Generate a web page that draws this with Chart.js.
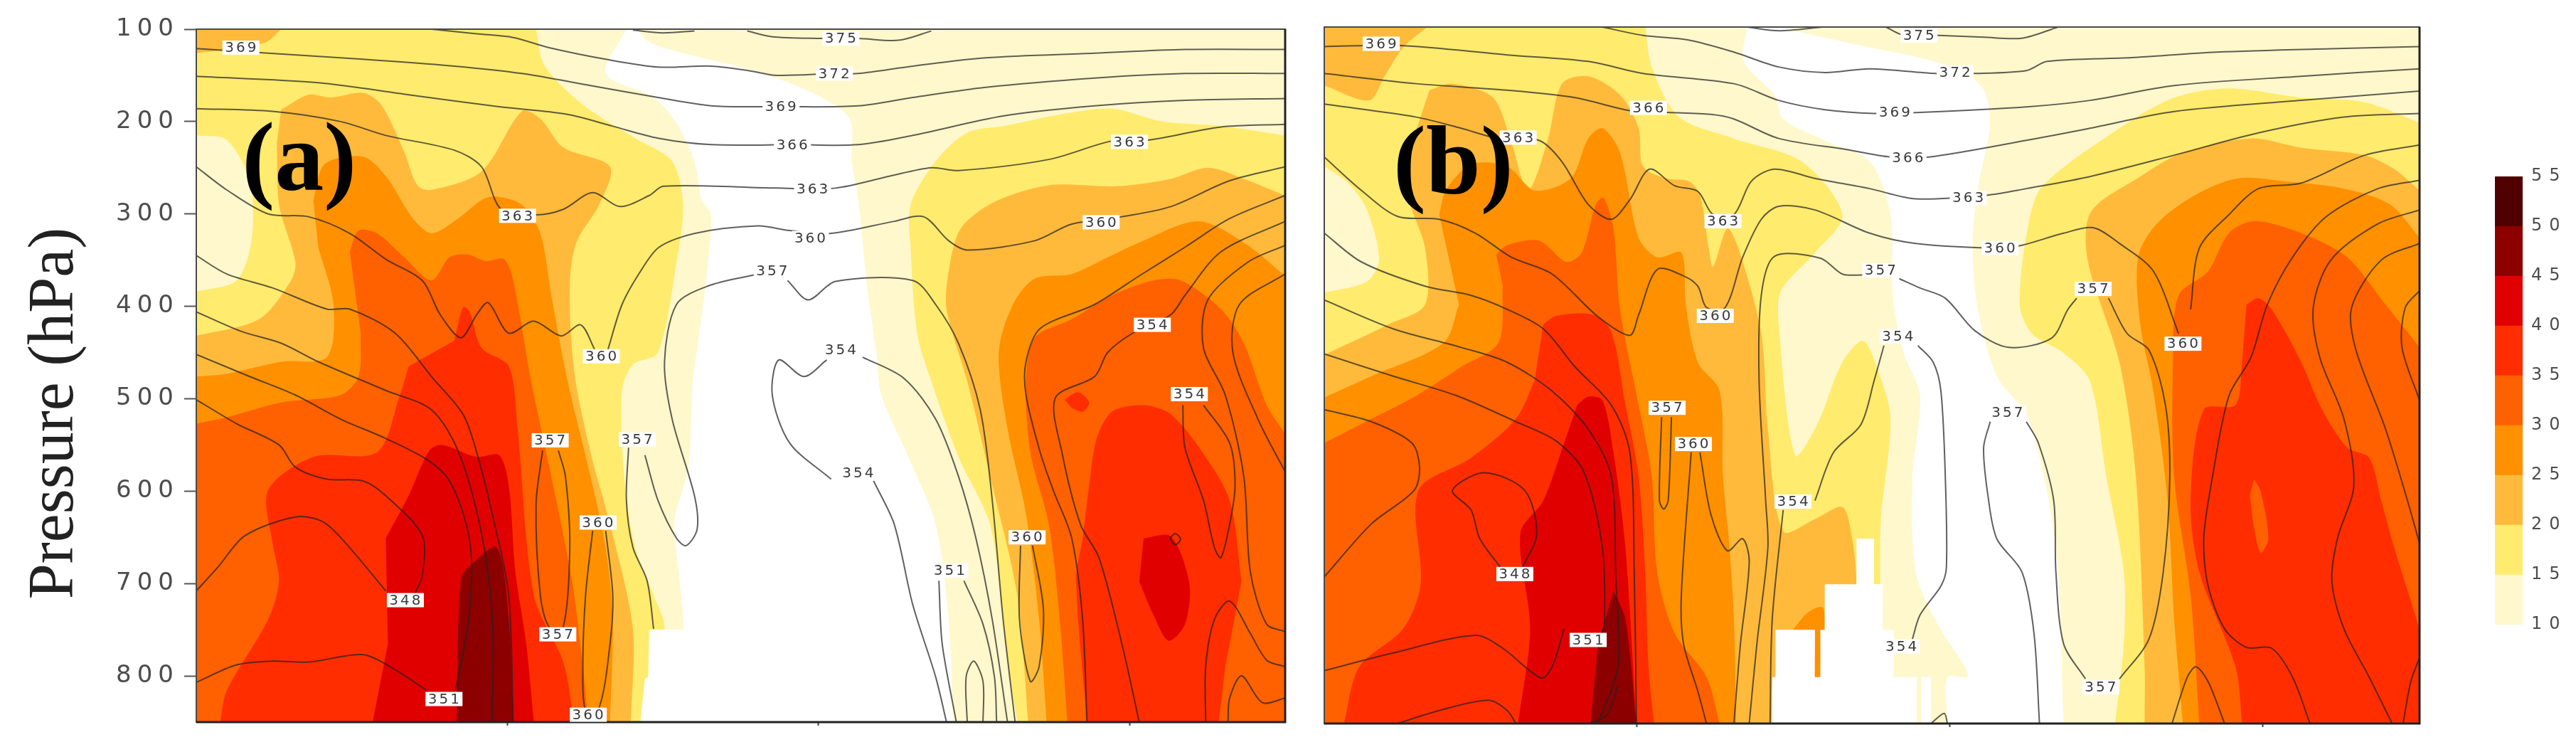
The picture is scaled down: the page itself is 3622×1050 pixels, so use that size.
<!DOCTYPE html>
<html lang="en">
<head>
<meta charset="UTF-8" />
<title>Pressure cross sections (a) and (b)</title>
<script src="https://cdn.jsdelivr.net/npm/chart.js"></script>
<style>
    body { margin: 0; background: #fff; }
    canvas { position: absolute; top: 0; filter: blur(0.6px); }
    #panelA { left: 0; }
    #panelB { left: 1840px; }
    #scaleBar { left: 3480px; }
</style>
</head>
<body>
<canvas id="panelA" width="1830" height="1050"></canvas>
<canvas id="panelB" width="1590" height="1050"></canvas>
<canvas id="scaleBar" width="142" height="1050"></canvas>
<script>
// axis values
const pressureTicks = [100, 200, 300, 400, 500, 600, 700, 800];
const xTicks = [28.57, 57.14, 85.71];
const levels = [10, 15, 20, 25, 30, 35, 40, 45, 50, 55];
const levelColors = ['#FFF8CC', '#FFEB6E', '#FFBA3C', '#FF9000', '#FF6000', '#FF2D00', '#E10000', '#8C0000', '#500000'];

// shaded areas, points are [x percent of section, pressure hPa]
const everything = [[0,100],[100,100],[100,850],[0,850]];

const gapA = [[39.5,100],[37.6,148],[42,174],[44.1,202],[45.75,243],[46.4,285],[47.25,300],[47,352],[46.2,429],[45.6,481],[45.2,574],[44,625],[43.9,646],[44.3,687],[44.75,749],[44.75,850],[69.5,850],[69.1,739],[67.9,636],[65.4,563],[62.9,496],[62.5,455],[61.6,378],[60.8,285],[60.2,243],[60,197],[56.6,169],[51.2,145],[45,127],[41.6,114],[40.5,100]];
const fillA15 = [
    [[31.2,100],[32,140],[35.75,184],[40.3,218],[43.7,243],[44.7,290],[44.1,352],[42.4,450],[40.1,463],[39.1,491],[39.3,584],[40.3,661],[42,713],[43,749],[41.2,850],[0,850],[0,100]],
    [[100,215],[94.1,205],[88.7,200],[84.1,186],[79.5,192],[74.1,205],[70.8,212],[67.9,243],[65.6,290],[65.6,336],[66.2,429],[67.5,481],[70,563],[72.9,636],[74.1,739],[74.6,790],[75.4,850],[100,850]]
];
const patchA10 = [[0,215],[2.8,220],[4.9,264],[5.1,326],[3.7,372],[0,384]];
const fillA20 = [
    [[0,100],[7.8,100],[6.4,114],[2.8,122],[0,126]],
    [[7.8,187],[10.3,171],[12.4,174],[15.3,169],[17,182],[19.1,233],[20.3,269],[21.6,274],[26.2,254],[29.9,189],[31.6,197],[33.7,228],[38,249],[37,290],[34.9,331],[34.3,378],[34.7,470],[36.2,558],[38,636],[40.1,749],[39.9,850],[0,850],[0,432],[5.75,414],[8.7,372],[9.1,352],[7.6,290],[7.4,223]],
    [[100,280],[96.2,262],[92.9,250],[89.5,262],[84.5,270],[78.3,269],[73.3,287],[70.2,316],[69.1,362],[68.9,403],[70.8,481],[72.9,584],[75.4,713],[76.4,850],[100,850]]
];
const fillA25 = [
    [[10.75,285],[11.8,246],[15.3,238],[17.4,259],[19.9,305],[21.6,321],[23.7,308],[26.2,285],[27.4,281],[29.9,290],[31.6,321],[32.6,388],[34.1,481],[36.2,584],[37.6,661],[38.25,739],[38,850],[0,850],[0,476],[2.8,473],[7.8,460],[12,455],[12.6,398],[11.2,336]],
    [[100,367],[96.2,331],[92,308],[86.6,331],[83.7,347],[80.4,365],[77,370],[75,398],[73.7,450],[74.5,532],[76.2,625],[77.4,739],[78.1,850],[100,850]]
];
const fillA30 = [
    [[14.1,341],[14.9,318],[16.6,321],[19.1,347],[21.6,372],[23.25,347],[24.9,344],[26.6,351],[28.25,349],[29.1,372],[30.75,481],[32.6,584],[34.5,697],[35.5,790],[36,850],[0,850],[0,527],[2.8,520],[7.8,504],[13.25,496],[14.9,476],[15.1,429]],
    [[100,538],[98.3,507],[96.2,440],[94.1,403],[90.4,372],[87.9,372],[84.1,388],[80.4,414],[77,434],[76.2,481],[76.6,558],[78.3,636],[79.3,739],[80,850],[100,850]]
];
const fillA35 = [
    [[23.7,437],[24.5,401],[25.1,406],[26.2,445],[28.7,465],[29.5,532],[31,713],[33.7,785],[34.7,850],[2.2,850],[2.8,816],[6.6,739],[7.6,697],[7,656],[6.6,599],[10.75,563],[16.6,558],[18.7,496],[19.5,465]],
    [[96,697],[94.9,610],[92.4,558],[89.5,517],[87,507],[84.1,514],[82.7,543],[82,594],[81.4,651],[80.8,697],[81.8,850],[93.9,850],[94.5,790]],
    [[79.75,501],[81,493],[82,504],[81.4,514],[80.4,510]]
];
const fillA40 = [
    [[17.4,651],[19.5,605],[21.4,556],[22.6,550],[25.75,563],[27.8,561],[28.7,594],[29.3,687],[30.3,765],[31,850],[16.2,850],[17.6,765]],
    [[87,651],[89.5,649],[91.2,700],[90.8,744],[89.3,762],[87.9,734],[86.6,698]]
];
const fillA45 = [[[23.9,850],[24.3,695],[25.3,679],[27.6,661],[28.7,739],[29.1,850]]];
const maskA = [[41.6,750],[44.9,750],[44.9,850],[40.8,850],[41.2,803],[41.5,801]];

const gapB = [[38.6,100],[38.3,137],[41.1,173],[41.9,199],[45.7,222],[49.8,245],[51.7,302],[51.9,389],[52.9,451],[54.4,497],[53.7,584],[54,687],[56,743],[58.5,789],[58.7,800],[56.9,800],[56.9,850],[67.5,850],[66.8,661],[64.3,522],[61.4,476],[59.6,399],[59.2,327],[59.8,266],[60.8,204],[60.2,168],[58.3,148],[54,132],[49.8,122],[44.8,109],[41.5,100]];
const fillB15 = [
    [[29.3,100],[29.9,143],[32.4,197],[37.4,220],[43.6,245],[47.3,302],[44.8,343],[41.7,384],[41.5,420],[43,561],[45,528],[47.3,461],[49.2,438],[50.6,471],[51.7,522],[50.8,635],[50.8,748],[50.8,850],[0,850],[0,100]],
    [[100,203],[95,181],[89.2,176],[82.6,166],[77.6,176],[72.6,209],[65.6,271],[64.3,312],[63.5,399],[64.6,430],[67.5,451],[69.9,481],[71.4,584],[73,687],[73,764],[72.2,850],[100,850]]
];
const patchB10 = [[0,250],[2.2,268],[3.9,297],[5,350],[3.9,374],[0,386]];
const fillB20 = [
    [[0,100],[9.4,100],[7.2,122],[5.5,153],[4.1,179],[0,163]],
    [[9.6,168],[11.7,161],[15.4,176],[17.1,225],[18.6,276],[20.4,222],[21.7,161],[24.1,153],[27,173],[28.7,209],[29.1,250],[31.2,263],[33.3,266],[34.3,281],[35.1,338],[35.5,358],[36.8,317],[37.8,338],[39.9,430],[40.5,533],[41.9,643],[44.8,630],[47.3,617],[48.2,651],[48.6,700],[48.6,850],[0,850],[0,453],[5.9,420],[9.2,399],[9.2,338],[7.8,286],[8,225]],
    [[100,276],[97.7,253],[95,238],[89.2,230],[84.6,220],[78.4,235],[74.5,261],[70,299],[69.7,351],[72.6,461],[74.1,584],[74.9,789],[74.9,850],[100,850]]
];
const fillB25 = [
    [[10.5,302],[11.1,276],[13.4,248],[16.7,250],[19.2,276],[22.5,263],[24.1,220],[25.4,209],[27,235],[28.7,327],[30.4,348],[32.6,343],[33,399],[34.1,461],[36.1,492],[36.4,584],[37,661],[37.4,738],[37.6,850],[0,850],[0,499],[4.3,476],[10.9,440],[12.3,399]],
    [[42.8,749],[44.2,730],[45.5,725],[45.7,749],[45.7,802],[44.8,802]],
    [[100,327],[97.3,291],[93.1,274],[87.6,266],[83.4,263],[79.5,281],[76,312],[74.3,348],[74.5,420],[75.7,492],[77,610],[77.6,738],[78.4,850],[100,850]]
];
const fillB30 = [
    [[15.7,345],[16.7,335],[19.6,330],[22.1,353],[23.5,343],[24.8,291],[25.5,284],[26.4,317],[27,404],[28.7,507],[29.9,584],[30.4,687],[32,753],[34.9,800],[36.1,850],[0,850],[0,548],[4.3,522],[8.4,497],[12.5,466],[15.9,440],[16.3,379]],
    [[100,445],[96.9,399],[93.4,348],[89.2,322],[84.9,309],[82.6,322],[80.7,363],[78,389],[77.5,456],[77.6,584],[79.1,712],[79.9,850],[100,850]]
];
const fillB35 = [
    [[20,420],[21.2,411],[24.6,410],[26.2,428],[27.5,507],[28.7,584],[29.3,687],[29.6,789],[30.1,850],[1.8,850],[3.2,789],[7.2,748],[8.8,700],[8.6,599],[13.4,564],[17.5,522],[19.2,481]],
    [[84.2,399],[85.3,392],[86.5,404],[89.2,461],[91.1,512],[93.4,553],[95.4,564],[96.5,610],[97.7,661],[100,748],[100,850],[83.8,850],[83.2,789],[79.9,687],[79.1,610],[80.3,512],[83.2,507],[83.8,461]]
];
const fillB40 = [[[23.1,507],[24.1,498],[25.4,502],[26.4,558],[27.5,661],[28.5,850],[17.7,850],[18.8,748],[17.9,645],[20,610],[21.9,548]]];
const fillB45 = [[[26.4,707],[27.5,738],[28.5,850],[24.3,850],[25,764]]];
const patchB30 = [[84.9,587],[85.5,600],[86.2,651],[85.5,666],[84.9,640],[84.5,604]];
const maskB = [[40.9,850],[40.9,800],[41.2,800],[41.2,749],[44.8,749],[44.8,800],[45.3,800],[45.3,749],[45.7,749],[45.7,700],[48.6,700],[48.6,651],[50.2,651],[50.2,700],[51,700],[51,749],[52,749],[52,800],[54.1,800],[54.1,850]];
const maskB2 = [[54.5,800],[55.4,800],[55.4,850],[54.5,850]];

// isentropes, one line per array
const linesA = [
    [[50.6,102],[52.8,108],[57,110],[60.8,110],[64.5,112],[67.5,102]],
    [[40.1,101],[42.8,104],[45.75,102]],
    [[21.6,100],[25.75,105],[29.1,109],[32.4,120],[37.8,133],[42.4,141],[47.3,140],[50.8,145],[53.3,150],[58.6,148],[60.8,148],[65.8,140],[72.5,131],[82.5,126],[90.8,122],[100,122]],
    [[0,121],[15.3,132.5],[23.7,140],[29.9,148],[36.2,161],[42.4,174],[47.3,183],[52,184],[53.7,184],[60.8,183],[65.8,174],[72.5,163],[82.5,153],[90.8,148],[100,148]],
    [[0,151],[11.2,158],[19.5,171],[27.8,184],[34,192],[38.25,205],[42.4,218],[47.3,225],[54.8,225],[60.8,225],[65.8,215],[74.1,194],[82.5,183],[90.8,177],[100,175]],
    [[0,186],[7,189],[13.25,200],[17.4,215],[23.7,231],[26.2,249],[28,295],[31.2,301],[33.7,295],[36.4,277],[38.9,292],[41.6,280],[42.9,270],[53.3,272],[58.7,272],[63.7,259],[67.5,250],[70,253],[78.3,241],[84.1,221],[87.5,220],[94,206],[100,203]],
    [[100,249],[94.9,264],[89.5,292],[85,303],[80.4,311],[77,329],[70.8,339],[69.1,329],[66.8,303],[64.1,308],[58.3,321],[54.5,318],[51.6,313],[45.8,321],[42.5,336],[40.8,362],[39.1,398],[37.8,447]],
    [[0,249],[2.8,274],[6.6,300],[10.3,303],[14.1,321],[17.4,349],[20.75,372],[22.4,409],[24.3,434],[25.75,409],[26.8,396],[28.7,429],[31,416],[33.5,432],[35.3,420],[36.6,447]],
    [[0,345],[2.8,365],[7,380],[12,403],[14.1,403],[18.25,429],[21.6,476],[24.5,517],[25.75,558],[27.4,636],[28.7,713],[29.1,850]],
    [[0,406],[4.1,427],[7.8,440],[11.2,460],[17.4,491],[21.6,512],[24.1,558],[26.2,646],[27.2,739],[27.2,850]],
    [[0,452],[4.9,476],[9.1,496],[13.25,522],[17.4,543],[21.2,566],[23.25,589],[24.9,641],[25.3,687],[24.9,749],[23.8,816]],
    [[0,501],[3.7,527],[7.6,550],[9.1,574],[12,587],[15.3,589],[17.4,605],[20.75,648],[20.75,692],[20.1,710]],
    [[0,708],[2,682],[4.5,648],[9.1,628],[11.6,633],[13.7,656],[17.4,708]],
    [[0,807],[3.7,788],[7,784],[10.3,785],[15.3,777],[17.8,790],[21.2,816]],
    [[31.8,556],[31.2,615],[31.6,713],[32.4,747],[33.7,747],[34.3,661],[33.9,584],[33.25,556]],
    [[36.4,643],[35.75,713],[35.5,790],[35.75,837],[37,834],[38,765],[38.25,713],[37.6,643]],
    [[39.7,553],[39.5,610],[40.1,661],[41.4,697],[42,749]],
    [[41.2,561],[42.4,610],[44.1,651],[45,659],[46,641],[45.75,605],[43.7,522],[43,460],[44.1,398],[47,378],[51.2,366]],
    [[54.3,372],[56.2,393],[58.7,373],[65.8,372],[67.9,398],[70,440],[72,512],[73.1,610],[74.1,739],[75.2,850]],
    [[57.9,458],[55.8,476],[53.5,458],[52.9,496],[54.5,548],[58.3,587]],
    [[62.2,589],[64.1,636],[65.8,723],[67.9,801],[68.9,850]],
    [[61.2,455],[65,478],[67.9,522],[70,584],[71.6,651],[73.1,739],[74.5,850]],
    [[68.2,697],[68.5,765],[69.8,850]],
    [[70.5,697],[72.25,744],[73.3,801],[73.5,850]],
    [[70.8,850],[70.7,801],[71.4,784],[72.25,806],[72.25,850]],
    [[75.7,659],[75.6,739],[76.6,806],[77.4,790],[77.8,728],[76.8,659]],
    [[100,280],[94.9,305],[90.8,336],[86.6,367],[82.5,398],[77.5,424],[76.2,460],[76.2,496],[77.5,558],[78.7,599],[80.4,651],[81.4,739],[81.8,850]],
    [[100,308],[94.1,341],[90.8,388],[89.5,409],[86,429],[83.7,450],[82.5,476],[78.9,499],[79.5,558],[81.2,636],[82.9,672],[85,765],[86.6,850]],
    [[100,334],[96.6,352],[92.9,393],[92.5,445],[94.5,496],[96.2,584],[96.8,687],[98.3,744],[100,752]],
    [[100,365],[95.8,398],[95.2,450],[97.5,522],[100,579]],
    [[90.6,507],[90.8,553],[92.5,610],[93.5,661],[94.1,672],[94.9,636],[95.4,594],[94.9,548],[92.5,507]],
    [[89.4,651],[89.9,646],[90.4,652],[89.9,658],[89.4,651]],
    [[100,790],[98.3,783],[96.8,754],[94.9,719],[93.5,739],[92.7,790],[92.7,850]],
    [[100,824],[97.9,829],[96,800],[94.9,824],[94.75,850]]
];
const linesB = [
    [[38.6,100],[41.5,104],[45.5,100]],
    [[51.3,100],[52.7,108],[56.1,109],[60.2,111],[63.7,112],[67,100]],
    [[25.4,100],[29.1,109],[33.25,114],[37.4,127],[41.5,143],[45.7,149],[49.8,145],[55.8,150],[57.6,149],[59.4,150],[64.1,147],[66,137],[73.7,133],[81.5,127],[93.1,123],[100,121]],
    [[0,121],[7,120],[16.7,130],[24.1,137],[29.1,150],[37.4,161],[41.5,179],[45.7,189],[50.2,193],[54.4,192],[64.1,186],[69.9,179],[77.6,163],[89.2,153],[100,145]],
    [[0,150],[8.4,161],[16.7,168],[22.9,176],[27.9,190],[31.4,192],[35.3,194],[37.4,199],[41.5,220],[47.7,232],[51.7,240],[55.2,240],[64.1,222],[69.9,209],[77.6,191],[89.2,179],[100,169]],
    [[0,183],[8.4,197],[12.5,209],[15.9,220],[19.6,222],[21.7,245],[24.1,291],[26.2,307],[27.9,286],[29.7,253],[32,271],[34.1,277],[35.5,302],[37.4,302],[39,266],[41.1,253],[44.8,263],[49.8,274],[54,285],[60.6,281],[64.1,274],[69.9,261],[77.6,238],[85.3,214],[93.1,197],[100,193]],
    [[0,240],[3.4,276],[6.7,304],[10.5,307],[13.8,322],[17.1,348],[20.8,366],[25,412],[27.9,432],[28.7,410],[30.4,361],[32.8,368],[34.1,379],[34.9,402],[36.6,402],[38.2,348],[39.9,307],[41.5,293],[44.8,297],[49.8,322],[54,333],[61.7,338],[63.7,335],[67.5,322],[70.2,316],[72.6,333],[75.7,363],[78,430]],
    [[79.1,404],[79.9,338],[82.6,302],[85.3,274],[89.2,268],[95,238],[100,227]],
    [[0,322],[3.4,353],[9.2,379],[13.4,389],[16.7,404],[20,425],[22.9,466],[26.2,507],[27.9,558],[28.3,687],[28.5,850]],
    [[0,394],[6.3,425],[12.5,445],[16.7,461],[20.8,492],[24.1,533],[26.2,584],[26.6,687],[26.8,789],[25,850]],
    [[0,452],[6.3,476],[12.1,497],[17.5,525],[21.2,546],[23.7,579],[25.4,661],[25.6,738],[25.4,753]],
    [[0,512],[4.3,525],[8,548],[8.7,574],[8.2,599],[4.3,635],[0,692]],
    [[16.1,682],[14.2,651],[13.4,620],[11.7,599],[14.6,580],[18.3,599],[19.4,646],[18.1,682]],
    [[0,793],[6.3,774],[13.8,755],[16.3,769],[19.8,801],[20.8,789],[21.9,748]],
    [[6.7,850],[10.5,836],[15,825],[16.7,836],[17.5,850]],
    [[24.3,850],[25.8,841],[26.8,810]],
    [[30.8,520],[30.6,610],[31,619],[31.4,610],[31.7,520]],
    [[33.5,558],[32.6,712],[32.8,764],[34.1,815],[34.9,850]],
    [[34.3,558],[35.3,625],[36.8,664],[38.2,651],[38.8,676],[38,764],[37.4,850]],
    [[49.2,367],[47.3,366],[45.3,349],[41.1,347],[39.9,389],[39.7,481],[40.3,610],[40.5,661],[39.5,764],[38.8,850]],
    [[41.9,620],[40.9,738],[40.7,850]],
    [[44.8,610],[46.5,558],[49,528],[50.2,481],[51.1,443]],
    [[54.2,443],[55.6,461],[56.3,492],[56.7,584],[56.8,682],[56.3,702],[54.4,733],[53.7,759]],
    [[55.4,850],[56.6,839],[56.9,850]],
    [[52.5,371],[54.4,381],[56.7,392],[59.4,427],[62.5,445],[66.4,435],[67.9,404],[68.7,392]],
    [[71.6,392],[73.3,430],[75.3,448],[76.8,507],[77.2,584],[76.6,687],[75.3,759],[72.6,802]],
    [[69.5,802],[67.5,764],[66.8,687],[66.6,610],[65.2,548],[64.1,525]],
    [[60.8,525],[60.2,553],[60.6,605],[61.4,651],[63.7,687],[64.8,753],[65.3,850]],
    [[100,265],[96.2,274],[91.5,304],[88.4,348],[86.1,399],[84.6,456],[82.6,497],[81.1,584],[80.3,651],[80.7,702],[82.2,748],[84.2,768],[86.5,769],[88.4,800],[90,850]],
    [[100,297],[96.2,312],[91.9,351],[90.3,402],[90.9,456],[93.1,522],[94,594],[92.5,651],[92,697],[93.1,748],[95.4,800],[97.5,850]],
    [[100,333],[96.5,351],[93.8,402],[94.2,448],[96.9,533],[98.9,610],[100,656]],
    [[100,384],[98.7,402],[98.4,445],[100,502]],
    [[100,779],[99.2,805],[98.5,850]],
    [[77.4,850],[78.8,800],[79.6,789],[80.7,805],[82.2,850]]
];

// contour labels: [value, x, pressure]
const labelsA = [[369,4.1,120],[363,29.5,302],[360,37.2,454],[357,32.5,545],[357,40.5,544],[360,36.9,634],[348,19.2,718],[357,33.2,755],[351,22.75,825],[360,36,842],[375,59.2,110],[372,58.6,148],[369,53.7,184],[366,54.75,225],[363,56.6,273],[360,56.4,326],[357,52.9,362],[354,59.2,447],[354,60.8,580],[351,69.2,686],[360,76.3,650],[354,87.8,420],[354,91.2,495],[360,83.1,309],[363,85.7,222]];
const labelsB = [[369,5.2,118],[366,29.6,187],[363,17.7,219],[363,36.4,309],[360,35.7,411],[357,31.3,510],[360,33.7,549],[348,17.4,689],[351,24.1,760],[354,42.8,611],[375,54.3,109],[372,57.6,149],[369,52.1,192],[366,53.3,241],[363,58.8,284],[360,61.7,338],[357,50.8,362],[354,52.4,433],[354,52.7,767],[357,70.2,382],[360,78.4,441],[357,62.4,515],[357,70.9,811]];

// shaded polygon: vertices on the section edge are doubled so the curve keeps its corner there
function shade(poly, color, tension) {
    const pts = [];
    poly.forEach(([x, y]) => {
        pts.push({ x, y });
        if (x === 0 || x === 100 || y === 100 || y === 850) pts.push({ x, y });
    });
    return { data: pts, showLine: true, fill: 'shape', backgroundColor: color, borderWidth: 0, pointRadius: 0, tension: tension };
}

function contour(line) {
    return { data: line.map(([x, y]) => ({ x, y })), showLine: true, fill: false, borderColor: 'rgba(35,35,35,0.72)', borderWidth: 2, pointRadius: 0, tension: 0.3 };
}

// first dataset is painted last in Chart.js, so the list is reversed at the end
function buildDatasets(layers, lines) {
    const list = [];
    layers.forEach(([polys, color, tension]) => polys.forEach((p) => list.push(shade(p, color, tension))));
    lines.forEach((l) => list.push(contour(l)));
    return list.reverse();
}

const sectionText = {
    id: 'sectionText',
    beforeDraw(chart, args, opts) {
        chart.ctx.letterSpacing = opts.tickSpacing || '0px';
    },
    afterDatasetsDraw(chart, args, opts) {
        const ctx = chart.ctx;
        const { left, top, right, bottom } = chart.chartArea;
        const xs = chart.scales.x, ys = chart.scales.y;
        ctx.save();
        ctx.letterSpacing = '0px';
        // frame
        ctx.strokeStyle = '#4a4a4a';
        ctx.lineWidth = 2;
        ctx.strokeRect(left, top, right - left, bottom - top);
        ctx.strokeStyle = '#222';
        ctx.lineWidth = 3;
        ctx.beginPath();
        ctx.moveTo(right, top);
        ctx.lineTo(right, bottom);
        ctx.lineTo(left, bottom);
        ctx.stroke();
        // contour labels
        ctx.font = '20px "DejaVu Sans"';
        ctx.textAlign = 'center';
        ctx.textBaseline = 'middle';
        opts.labels.forEach(([v, x, p]) => {
            const px = xs.getPixelForValue(x), py = ys.getPixelForValue(p);
            ctx.fillStyle = '#fff';
            ctx.fillRect(px - 26, py - 10, 52, 20);
            ctx.fillStyle = '#3a3a3a';
            ctx.letterSpacing = '3px';
            ctx.fillText(String(v), px + 1, py + 1);
            ctx.letterSpacing = '0px';
        });
        // panel tag
        ctx.font = 'bold 138px "Liberation Serif"';
        ctx.textAlign = 'left';
        ctx.textBaseline = 'alphabetic';
        ctx.fillStyle = '#000';
        ctx.fillText(opts.tag, xs.getPixelForValue(opts.tagX), ys.getPixelForValue(opts.tagP));
        // y axis title
        if (opts.yTitle) {
            ctx.translate(78, 581);
            ctx.rotate(-Math.PI / 2);
            ctx.font = '90px "Liberation Serif"';
            ctx.textAlign = 'center';
            ctx.textBaseline = 'middle';
            ctx.fillStyle = '#222';
            ctx.fillText(opts.yTitle, 0, 0);
        }
        ctx.restore();
    },
};

function sectionChart(id, layers, lines, textOpts, padding, showPressure) {
    return new Chart(document.getElementById(id), {
        type: 'scatter',
        data: { datasets: buildDatasets(layers, lines) },
        options: {
            responsive: false,
            devicePixelRatio: 1,
            animation: false,
            layout: { padding: padding },
            plugins: { legend: { display: false }, tooltip: { enabled: false }, sectionText: textOpts },
            scales: {
                x: {
                    type: 'linear', min: 0, max: 100,
                    afterBuildTicks: (s) => { s.ticks = xTicks.map((v) => ({ value: v })); },
                    afterFit: (s) => { s.height = 0; },
                    ticks: { display: false },
                    border: { display: false },
                    grid: { drawOnChartArea: false, tickLength: 5, tickColor: '#444', tickWidth: 2 },
                },
                y: {
                    type: 'linear', reverse: true, min: 100, max: 850,
                    afterBuildTicks: (s) => { s.ticks = pressureTicks.map((v) => ({ value: v })); },
                    afterFit: (s) => { s.width = showPressure ? 276 : 0; },
                    ticks: { display: showPressure, padding: 7, autoSkip: false, color: '#4d4d4d', font: { family: 'DejaVu Sans', size: 34 } },
                    border: { display: false },
                    grid: { drawOnChartArea: false, drawTicks: showPressure, tickLength: 17, tickColor: '#555', tickWidth: 2 },
                },
            },
        },
        plugins: [sectionText],
    });
}

const c = levelColors;
sectionChart('panelA', [
    [[everything], c[0], 0.001], [[gapA], '#fff', 0.3], [fillA15, c[1], 0.3], [[patchA10], c[0], 0.3],
    [fillA20, c[2], 0.3], [fillA25, c[3], 0.3], [fillA30, c[4], 0.3], [fillA35, c[5], 0.3],
    [fillA40, c[6], 0.3], [fillA45, c[7], 0.3], [[maskA], '#fff', 0.001],
], linesA, { labels: labelsA, tag: '(a)', tagX: 4.2, tagP: 274, yTitle: 'Pressure (hPa)', tickSpacing: '8px' },
    { left: 0, right: 23, top: 41, bottom: 35 }, true);

sectionChart('panelB', [
    [[everything], c[0], 0.001], [[gapB], '#fff', 0.3], [fillB15, c[1], 0.3], [[patchB10], c[0], 0.3],
    [fillB20, c[2], 0.3], [fillB25, c[3], 0.3], [fillB30, c[4], 0.3], [fillB35, c[5], 0.3],
    [fillB40, c[6], 0.3], [fillB45, c[7], 0.3], [[patchB30], c[4], 0.3], [[maskB, maskB2], '#fff', 0.001],
], linesB, { labels: labelsB, tag: '(b)', tagX: 6.3, tagP: 279 },
    { left: 22, right: 28, top: 38, bottom: 33 }, false);

// colour scale, one floating bar per level band
new Chart(document.getElementById('scaleBar'), {
    type: 'bar',
    data: {
        labels: [''],
        datasets: levelColors.map((color, i) => ({ data: [[levels[i], levels[i + 1]]], backgroundColor: color, grouped: false, barPercentage: 1, categoryPercentage: 1 })),
    },
    options: {
        responsive: false,
        devicePixelRatio: 1,
        animation: false,
        layout: { padding: { left: 28, right: 0, top: 248, bottom: 172 } },
        plugins: { legend: { display: false }, tooltip: { enabled: false } },
        scales: {
            x: { display: false },
            y: {
                position: 'right', min: 10, max: 55,
                afterBuildTicks: (s) => { s.ticks = levels.map((v) => ({ value: v })); },
                afterFit: (s) => { s.width = 75; },
                ticks: { padding: 12, autoSkip: false, color: '#4d4d4d', font: { family: 'DejaVu Sans', size: 24 } },
                border: { display: false },
                grid: { display: false, drawTicks: false },
            },
        },
    },
    plugins: [{ id: 'wideDigits', beforeDraw: (chart) => { chart.ctx.letterSpacing = '10px'; } }],
});
</script>
</body>
</html>
